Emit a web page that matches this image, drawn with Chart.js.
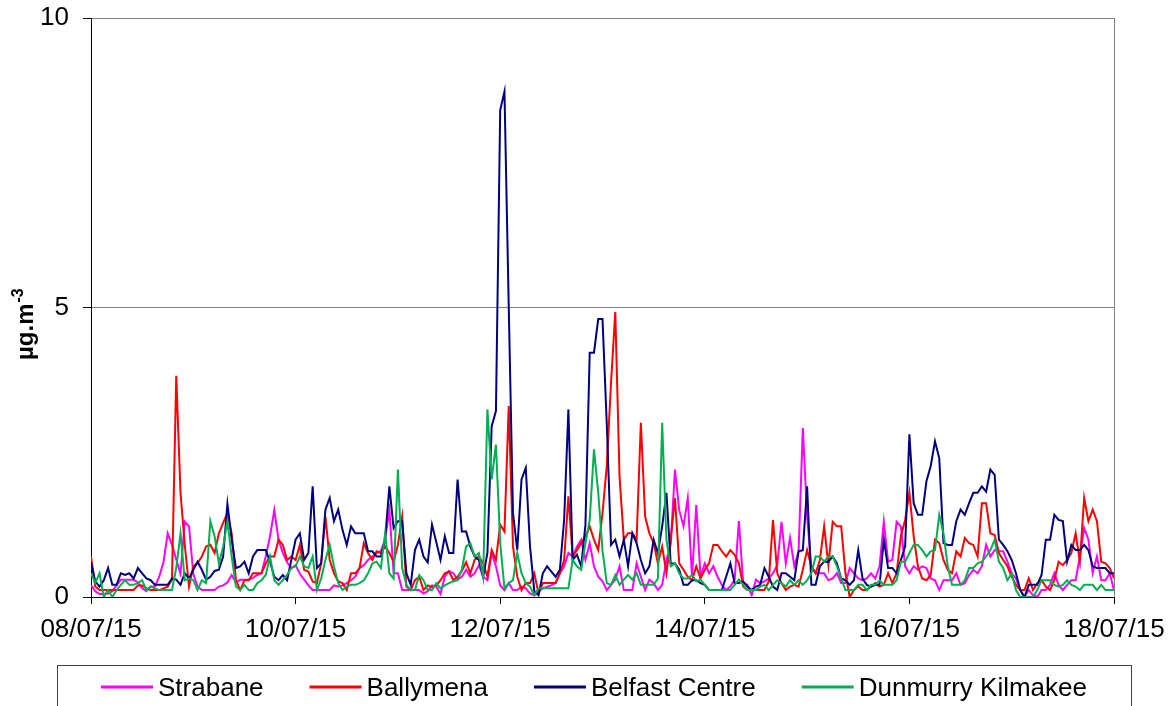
<!DOCTYPE html>
<html>
<head>
<meta charset="utf-8">
<title>Hourly concentrations</title>
<script src="https://cdn.jsdelivr.net/npm/chart.js@4/dist/chart.umd.min.js"></script>
<style>
  html, body { margin: 0; padding: 0; background: #fff; }
  #wrap { width: 1176px; height: 706px; }
</style>
</head>
<body>
<div id="wrap"><canvas id="chart" width="1176" height="706"></canvas></div>
<script>
// tick labels, one every 48 hours
const dateLabels = ['08/07/15', '10/07/15', '12/07/15', '14/07/15', '16/07/15', '18/07/15'];

const seriesNames = ['Strabane', 'Ballymena', 'Belfast Centre', 'Dunmurry Kilmakee'];
const seriesColors = ['#FF00FF', '#FF0000', '#000080', '#00B050'];

// hourly values, 08/07/15 00:00 to 18/07/15 00:00 (µg.m-3)
const strabane = [
  0.2, 0.1, 0.05, 0.05, 0.06, 0.1, 0.2, 0.3, 0.3, 0.3, 0.3, 0.25,
  0.15, 0.1, 0.18, 0.18, 0.35, 0.6, 1.1, 0.9, 0.65, 0.4, 1.3, 1.22,
  0.4, 0.18, 0.12, 0.12, 0.12, 0.12, 0.18, 0.2, 0.25, 0.38, 0.25, 0.3,
  0.3, 0.3, 0.33, 0.38, 0.41, 0.7, 1.05, 1.5, 0.99, 0.76, 0.6, 0.5,
  0.55, 0.4, 0.3, 0.2, 0.12, 0.12, 0.12, 0.12, 0.12, 0.2, 0.18, 0.2,
  0.24, 0.29, 0.35, 0.5, 0.55, 0.64, 0.7, 0.76, 0.79, 1.0, 1.5, 0.41,
  0.41, 0.12, 0.12, 0.12, 0.12, 0.12, 0.06, 0.1, 0.2, 0.18, 0.05, 0.35,
  0.45, 0.41, 0.3, 0.35, 0.47, 0.35, 0.41, 0.55, 0.35, 0.29, 0.76, 0.53,
  0.2, 0.12, 0.24, 0.12, 0.12, 0.18, 0.15, 0.06, 0.03, 0.1, 0.15, 0.18,
  0.2, 0.24, 0.41, 0.53, 0.76, 0.7, 0.87, 0.99, 0.64, 0.93, 0.53, 0.35,
  0.27, 0.12, 0.21, 0.3, 0.53, 0.12, 0.12, 0.12, 0.58, 0.35, 0.12, 0.3,
  0.24, 0.12, 0.21, 0.64, 0.9, 2.2, 1.5, 1.22, 1.71, 0.35, 1.59, 0.35,
  0.58, 0.41, 0.53, 0.35, 0.21, 0.12, 0.18, 0.3, 1.31, 0.24, 0.21, 0.03,
  0.3, 0.24, 0.27, 0.32, 0.41, 0.55, 1.3, 0.58, 1.02, 0.53, 0.79, 2.92,
  1.39, 0.53, 0.41, 0.41, 0.41, 0.29, 0.32, 0.41, 0.24, 0.24, 0.5, 0.41,
  0.32, 0.29, 0.32, 0.41, 0.32, 0.53, 1.3, 0.61, 0.64, 1.3, 1.22, 0.53,
  0.41, 0.53, 0.47, 0.53, 0.5, 0.32, 0.29, 0.12, 0.29, 0.29, 0.29, 0.41,
  0.21, 0.24, 0.38, 0.47, 0.41, 0.53, 0.9, 0.7, 0.81, 0.79, 0.79, 0.61,
  0.41, 0.32, 0.12, 0.0, 0.12, 0.03, 0.0, 0.12, 0.12, 0.21, 0.41, 0.21,
  0.12, 0.21, 0.29, 0.29, 0.7, 1.19, 0.99, 0.41, 0.7, 0.29, 0.29, 0.41,
  0.12
];

const ballymena = [
  0.7, 0.18, 0.12, 0.12, 0.12, 0.12, 0.12, 0.12, 0.12, 0.12, 0.12, 0.2,
  0.2, 0.15, 0.12, 0.12, 0.12, 0.15, 0.18, 0.3, 3.82, 1.8, 0.9, 0.18,
  0.53, 0.58, 0.7, 0.87, 0.9, 0.76, 1.1, 1.28, 1.45, 1.1, 0.29, 0.12,
  0.29, 0.29, 0.41, 0.41, 0.41, 0.58, 0.7, 0.7, 0.99, 0.9, 0.64, 0.7,
  0.64, 0.9, 0.47, 0.44, 0.27, 0.24, 0.58, 1.39, 0.64, 0.41, 0.27, 0.24,
  0.12, 0.41, 0.41, 0.5, 0.93, 0.76, 0.64, 0.79, 0.76, 0.87, 0.76, 0.61,
  0.9, 1.39, 0.18, 0.12, 0.29, 0.35, 0.12, 0.2, 0.17, 0.2, 0.29, 0.41,
  0.44, 0.29, 0.35, 0.45, 0.6, 0.41, 0.64, 0.7, 0.58, 0.35, 0.81, 0.64,
  1.25, 1.13, 3.3, 0.87, 0.35, 0.12, 0.24, 0.24, 0.41, 0.06, 0.24, 0.24,
  0.24, 0.24, 0.41, 0.64, 1.74, 0.7, 0.81, 0.93, 1.05, 1.22, 0.99, 0.81,
  1.45, 2.26, 3.7, 4.92, 2.08, 0.99, 1.1, 1.1, 0.99, 3.01, 1.39, 1.1,
  0.93, 0.58, 0.87, 0.41, 0.99, 1.71, 0.58, 0.47, 0.35, 0.29, 0.53, 0.32,
  0.47, 0.58, 0.9, 0.9, 0.79, 0.7, 0.81, 0.73, 0.58, 0.18, 0.12, 0.12,
  0.12, 0.12, 0.12, 0.27, 1.33, 0.41, 0.24, 0.12, 0.18, 0.21, 0.18, 0.47,
  0.81, 0.53, 0.41, 0.64, 1.22, 0.55, 1.3, 1.22, 1.22, 0.41, 0.0, 0.12,
  0.18, 0.12, 0.12, 0.18, 0.24, 0.18, 0.21, 0.41, 0.24, 0.41, 1.05, 1.33,
  1.8, 1.05, 0.53, 0.32, 0.29, 0.38, 0.99, 0.93, 0.64, 0.47, 0.41, 0.79,
  0.7, 1.02, 0.93, 0.9, 0.7, 1.62, 1.62, 1.1, 1.07, 0.76, 0.64, 0.53,
  0.35, 0.21, 0.12, 0.12, 0.32, 0.12, 0.24, 0.29, 0.18, 0.12, 0.29, 0.61,
  0.55, 0.64, 0.76, 1.1, 0.61, 1.71, 1.31, 1.51, 1.31, 0.61, 0.58, 0.5,
  0.32
];

const belfastCentre = [
  0.6, 0.27, 0.18, 0.29, 0.5, 0.21, 0.21, 0.41, 0.38, 0.41, 0.32, 0.5,
  0.41, 0.32, 0.29, 0.21, 0.21, 0.21, 0.21, 0.32, 0.3, 0.21, 0.41, 0.32,
  0.47, 0.61, 0.47, 0.3, 0.35, 0.45, 0.47, 0.7, 1.61, 1.0, 0.5, 0.53,
  0.61, 0.41, 0.7, 0.81, 0.81, 0.81, 0.61, 0.35, 0.29, 0.38, 0.29, 0.64,
  0.99, 1.1, 0.64, 0.76, 1.91, 0.5, 0.58, 1.51, 1.71, 1.31, 1.51, 1.16,
  0.9, 1.22, 1.1, 1.1, 1.1, 0.79, 0.79, 0.7, 0.7, 0.99, 1.91, 1.19,
  1.31, 1.31, 0.41, 0.21, 0.81, 0.99, 0.7, 0.6, 1.25, 0.95, 0.64, 1.05,
  0.76, 0.76, 2.03, 1.13, 1.13, 0.87, 0.7, 0.64, 0.35, 0.76, 2.95, 3.21,
  8.41, 8.73, 5.03, 1.45, 0.81, 2.03, 2.23, 0.87, 0.1, 0.03, 0.41, 0.53,
  0.44, 0.35, 0.47, 1.33, 3.24, 0.64, 0.73, 0.53, 1.25, 4.22, 4.22, 4.8,
  4.8, 3.0, 0.9, 0.99, 0.7, 0.99, 0.53, 1.1, 0.93, 0.64, 0.41, 0.53,
  0.99, 0.76, 1.22, 1.8, 0.58, 0.58, 0.47, 0.21, 0.21, 0.29, 0.29, 0.24,
  0.21, 0.12, 0.12, 0.12, 0.12, 0.35, 0.58, 0.24, 0.24, 0.27, 0.18, 0.12,
  0.18, 0.21, 0.5, 0.35, 0.18, 0.12, 0.41, 0.41, 0.35, 0.29, 0.79, 0.81,
  1.91, 0.21, 0.21, 0.53, 0.61, 0.61, 0.7, 0.58, 0.32, 0.29, 0.21, 0.29,
  0.81, 0.32, 0.21, 0.18, 0.21, 0.21, 0.99, 0.5, 0.5, 0.41, 0.64, 0.87,
  2.81, 1.62, 1.42, 1.42, 2.0, 2.26, 2.69, 2.4, 0.93, 0.9, 0.9, 1.31,
  1.51, 1.42, 1.62, 1.8, 1.8, 1.91, 1.82, 2.2, 2.11, 0.99, 0.9, 0.79,
  0.64, 0.41, 0.12, 0.0, 0.21, 0.21, 0.21, 0.38, 0.99, 0.99, 1.42, 1.33,
  1.31, 0.61, 0.9, 0.81, 0.81, 0.9, 0.81, 0.53, 0.5, 0.5, 0.5, 0.41,
  0.41
];

const dunmurryKilmakee = [
  0.41, 0.24, 0.41, 0.0, 0.12, 0.0, 0.12, 0.21, 0.29, 0.21, 0.21, 0.24,
  0.29, 0.12, 0.18, 0.15, 0.12, 0.12, 0.12, 0.12, 0.5, 1.1, 0.29, 0.32,
  0.29, 0.12, 0.29, 0.24, 1.31, 1.05, 0.58, 0.87, 1.31, 0.7, 0.18, 0.12,
  0.21, 0.12, 0.12, 0.24, 0.29, 0.38, 0.7, 0.29, 0.21, 0.29, 0.38, 0.5,
  0.53, 0.7, 0.53, 0.5, 0.7, 0.12, 0.32, 0.64, 0.9, 0.53, 0.24, 0.12,
  0.18, 0.21, 0.21, 0.24, 0.29, 0.41, 0.58, 0.61, 0.5, 1.1, 0.41, 0.32,
  2.2, 0.5, 0.21, 0.12, 0.12, 0.38, 0.29, 0.12, 0.12, 0.24, 0.15, 0.2,
  0.24, 0.27, 0.29, 0.47, 0.87, 0.93, 0.7, 0.76, 0.35, 3.24, 2.03, 2.63,
  0.93, 0.15, 0.24, 0.29, 0.76, 0.41, 0.24, 0.18, 0.03, 0.15, 0.15, 0.15,
  0.15, 0.15, 0.15, 0.15, 0.15, 0.64, 0.53, 0.47, 0.93, 1.33, 2.55, 1.8,
  0.8, 0.24, 0.21, 0.38, 0.21, 0.3, 0.38, 0.3, 0.41, 0.21, 0.21, 0.21,
  0.21, 0.32, 3.01, 0.99, 0.53, 0.58, 0.41, 0.32, 0.32, 0.38, 0.27, 0.3,
  0.21, 0.12, 0.12, 0.12, 0.12, 0.12, 0.12, 0.21, 0.3, 0.21, 0.12, 0.12,
  0.12, 0.18, 0.21, 0.12, 0.21, 0.29, 0.24, 0.18, 0.29, 0.21, 0.29, 0.21,
  0.29, 0.41, 0.7, 0.7, 0.61, 0.7, 0.7, 0.53, 0.32, 0.12, 0.12, 0.12,
  0.21, 0.21, 0.12, 0.21, 0.21, 0.29, 0.21, 0.21, 0.21, 0.29, 0.61, 0.61,
  0.76, 0.9, 0.9, 0.81, 0.7, 0.79, 0.81, 1.42, 1.1, 0.53, 0.21, 0.21,
  0.21, 0.29, 0.5, 0.5, 0.58, 0.61, 0.7, 0.81, 0.99, 0.61, 0.5, 0.29,
  0.41, 0.12, 0.0, 0.0, 0.0, 0.0, 0.12, 0.29, 0.29, 0.29, 0.21, 0.18,
  0.21, 0.29, 0.21, 0.18, 0.12, 0.21, 0.21, 0.21, 0.12, 0.21, 0.12, 0.12,
  0.12
];

const FONT = '"Liberation Sans", Arial, sans-serif';

// Turn an hourly array into {x: hour, y: value} points
function toPoints(values) {
    return values.map((v, i) => ({ x: i, y: v }));
}

/**
 * Rotated y-axis title with a superscript exponent
 */
const yTitlePlugin = {
    id: 'yTitle',
    afterDraw(chart) {
        const ctx = chart.ctx;
        ctx.save();
        ctx.translate(33, 360);
        ctx.rotate(-Math.PI / 2);
        ctx.fillStyle = '#000';
        ctx.textAlign = 'left';
        ctx.textBaseline = 'alphabetic';
        ctx.font = 'bold 24px ' + FONT;
        ctx.fillText('µg.m', 0, 0);
        const w = ctx.measureText('µg.m').width;
        ctx.font = 'bold 16px ' + FONT;
        ctx.fillText('-3', w + 1, -10);
        ctx.restore();
    }
};

/**
 * Boxed legend below the axis, built from the chart's datasets
 */
const legendBoxPlugin = {
    id: 'legendBox',
    afterDraw(chart) {
        const ctx = chart.ctx;
        const lineLen = 52, textGap = 5, itemGap = 46;
        ctx.save();
        ctx.font = '26px ' + FONT;
        const items = chart.data.datasets.map(ds => ({
            label: ds.label,
            color: ds.borderColor,
            w: ctx.measureText(ds.label).width
        }));
        const total = items.reduce((s, it) => s + lineLen + textGap + it.w, 0) + itemGap * (items.length - 1);

        ctx.strokeStyle = '#404040';
        ctx.lineWidth = 1;
        ctx.strokeRect(57.5, 665.5, 1074, 60);

        let x = 594 - total / 2;
        const y = 687;
        items.forEach(it => {
            ctx.strokeStyle = it.color;
            ctx.lineWidth = 3;
            ctx.beginPath();
            ctx.moveTo(x, y);
            ctx.lineTo(x + lineLen, y);
            ctx.stroke();
            x += lineLen + textGap;
            ctx.fillStyle = '#000';
            ctx.textBaseline = 'alphabetic';
            ctx.fillText(it.label, x, 695.5);
            x += it.w + itemGap;
        });
        ctx.restore();
    }
};

const seriesValues = [strabane, ballymena, belfastCentre, dunmurryKilmakee];

const chart = new Chart(document.getElementById('chart'), {
    type: 'line',
    data: {
        datasets: seriesNames.map((name, i) => ({
            label: name,
            data: toPoints(seriesValues[i]),
            borderColor: seriesColors[i],
            backgroundColor: seriesColors[i],
            borderWidth: 2,
            pointRadius: 0,
            tension: 0,
            fill: false,
            order: seriesNames.length - i // later series drawn on top
        }))
    },
    options: {
        responsive: false,
        animation: false,
        devicePixelRatio: 1,
        layout: {
            padding: { top: 18, right: 62, left: 0, bottom: 0 }
        },
        plugins: {
            legend: { display: false },
            tooltip: { enabled: false }
        },
        scales: {
            x: {
                type: 'linear',
                min: 0,
                max: 240,
                ticks: {
                    stepSize: 48,
                    autoSkip: false,
                    maxRotation: 0,
                    padding: 10,
                    color: '#000',
                    font: { family: FONT, size: 26 },
                    callback: (value) => dateLabels[Math.round(value / 48)]
                },
                grid: {
                    color: (c) => (c.tick && c.tick.value === 240) ? '#808080' : 'rgba(0,0,0,0)',
                    tickColor: '#000',
                    tickLength: 7
                },
                border: { color: '#000', width: 1 },
                afterFit: (scale) => {
                    scale.height = 109;
                    scale.paddingLeft = 0;
                    scale.paddingRight = 0;
                }
            },
            y: {
                min: 0,
                max: 10,
                ticks: {
                    stepSize: 5,
                    padding: 14,
                    color: '#000',
                    font: { family: FONT, size: 26 }
                },
                grid: {
                    color: (c) => (c.tick && c.tick.value === 0) ? 'rgba(0,0,0,0)' : '#808080',
                    tickColor: '#000',
                    tickLength: 8
                },
                border: { color: '#000', width: 1 },
                afterFit: (scale) => {
                    scale.width = 91;
                    scale.paddingTop = 0;
                    scale.paddingBottom = 0;
                }
            }
        }
    },
    plugins: [yTitlePlugin, legendBoxPlugin]
});
</script>
</body>
</html>
